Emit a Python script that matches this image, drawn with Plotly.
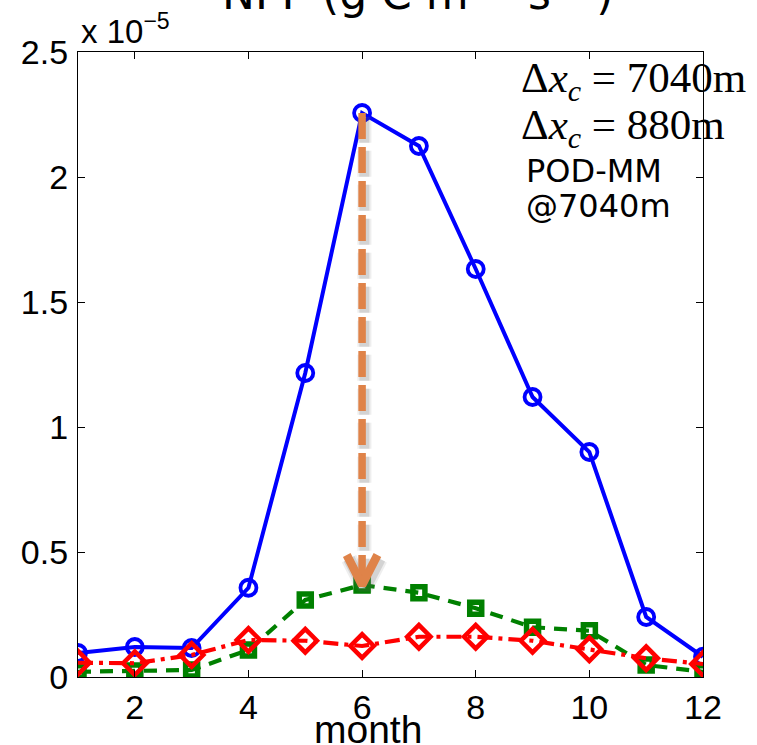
import plotly.graph_objects as go

# Monthly NPP, in units of 1e-5 g C m^-2 s^-1
months = list(range(1, 13))
npp_7040 = [0.096, 0.12, 0.116, 0.357, 1.216, 2.256, 2.124, 1.632, 1.12, 0.90, 0.24, 0.081]
npp_880 = [0.021, 0.024, 0.028, 0.108, 0.308, 0.368, 0.337, 0.275, 0.199, 0.185, 0.048, 0.021]
npp_pod = [0.057, 0.055, 0.088, 0.148, 0.145, 0.124, 0.161, 0.161, 0.145, 0.111, 0.075, 0.052]

x_ticks = [2, 4, 6, 8, 10, 12]
y_ticks = [0, 0.5, 1, 1.5, 2, 2.5]
y_tick_text = ["0", "0.5", "1", "1.5", "2", "2.5"]

W, H = 757, 745
ML, MR, MT, MB = 78, 54, 52, 68
PW, PH = W - ML - MR, H - MT - MB

BLUE = "#0000FF"
GREEN = "#008000"
RED = "#FF0000"
ORANGE = "#DF8349"


def px_x(xp):
    return (xp - ML) / PW


def px_y(yp):
    return (H - MB - yp) / PH


fig = go.Figure()

fig.add_trace(go.Scatter(
    x=months, y=npp_7040, mode="lines+markers",
    line=dict(color=BLUE, width=4),
    marker=dict(symbol="circle-open", size=16, line=dict(width=3.8, color=BLUE)),
))
fig.add_trace(go.Scatter(
    x=months, y=npp_880, mode="lines+markers",
    line=dict(color=GREEN, width=4.2, dash="13px,9px"),
    marker=dict(symbol="square-open", size=12, line=dict(width=5.5, color=GREEN)),
))
fig.add_trace(go.Scatter(
    x=months, y=npp_pod, mode="lines+markers",
    line=dict(color=RED, width=4.2, dash="15px,6px,4px,6px"),
    marker=dict(symbol="diamond-open", size=18, line=dict(width=4.5, color=RED)),
))

# Arrow from the 7040 m peak down to the 880 m value in the same month
peak_i = npp_7040.index(max(npp_7040))
x_arrow = months[peak_i]
y_top, y_tip = npp_7040[peak_i], npp_880[peak_i]
head_dx, head_dy = 0.27, 0.12

# soft shadow under the arrow
for w, op in [(14, 0.10), (10, 0.18)]:
    fig.add_trace(go.Scatter(
        x=[x_arrow + 0.04, x_arrow + 0.04], y=[y_top - 0.015, y_tip - 0.015],
        mode="lines", line=dict(color="#606060", width=w, dash="26px,8px"),
        opacity=op,
    ))
    fig.add_trace(go.Scatter(
        x=[x_arrow - head_dx + 0.04, x_arrow + 0.04, x_arrow + head_dx + 0.04],
        y=[y_tip + head_dy - 0.015, y_tip - 0.015, y_tip + head_dy - 0.015],
        mode="lines", line=dict(color="#606060", width=w + 2), opacity=op,
    ))

fig.add_trace(go.Scatter(
    x=[x_arrow, x_arrow], y=[y_top, y_tip + 0.03],
    mode="lines", line=dict(color=ORANGE, width=7.5, dash="26px,8px"),
))
fig.add_trace(go.Scatter(
    x=[x_arrow - head_dx, x_arrow, x_arrow + head_dx],
    y=[y_tip + head_dy, y_tip, y_tip + head_dy],
    mode="lines", line=dict(color=ORANGE, width=8.5),
))

axis_common = dict(
    showgrid=False, zeroline=False, showline=True, linecolor="black", linewidth=1.3,
    mirror="ticks", ticks="inside", ticklen=7, tickwidth=1, tickcolor="black",
    tickfont=dict(family="Liberation Sans, Arial, sans-serif", size=34, color="black"),
)

fig.update_xaxes(range=[1, 12], tickvals=x_ticks, ticklabelstandoff=0, **axis_common)
fig.update_yaxes(range=[0, 2.5], tickvals=y_ticks, ticktext=y_tick_text,
                 ticklabelstandoff=2, **axis_common)

SANS = "Liberation Sans, Arial, sans-serif"
GEO = "DejaVu Sans, sans-serif"
SERIF = "Liberation Serif, Times New Roman, serif"


def label(text, x, y_base, size, family, xanchor="left"):
    # place text so that its baseline sits at pixel row y_base
    fig.add_annotation(
        text=text, xref="paper", yref="paper", x=px_x(x), y=px_y(y_base + 0.27 * size),
        xanchor=xanchor, yanchor="bottom", showarrow=False,
        font=dict(family=family, size=size, color="black"),
    )


label("NPP (g C m<sup>\u22122</sup> s<sup>\u22121</sup>)", 220, 9, 44, GEO)
label("x 10<sup>\u22125</sup>", 79, 43, 33, SANS)
label("\u0394<i>x</i><sub><i>c</i></sub> = 7040m", 519, 98, 43, SERIF)
label("\u0394<i>x</i><sub><i>c</i></sub> = 880m", 519, 145, 43, SERIF)
label("POD-MM", 524, 183, 32, GEO)
label("@7040m", 524, 218, 32, GEO)
label("month", 368, 742, 39, SANS, xanchor="center")

fig.update_layout(
    width=W, height=H, showlegend=False,
    margin=dict(l=ML, r=MR, t=MT, b=MB, pad=0),
    paper_bgcolor="white", plot_bgcolor="white",
)

fig.write_html("out.html")
